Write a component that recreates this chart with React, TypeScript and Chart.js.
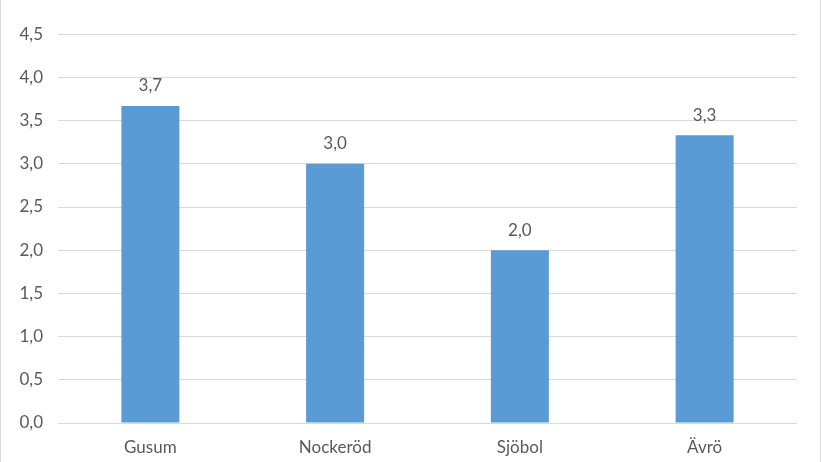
import React, { useRef, useEffect } from "react";
import { Chart, registerables } from "chart.js";

Chart.register(...registerables);

const categories = ["Gusum", "Nockeröd", "Sjöbol", "Ävrö"];
const values = [3.67, 3.0, 2.0, 3.33];
const yMax = 5;
const yStep = 0.5;

const FONT = "Lato, 'Liberation Sans', sans-serif";
const TEXT = "#595959";
const GRID = "#d9d9d9";
const BAR = "#5b9bd5";
const SIZE = 17;

const fmt = (v: number, d: number) => v.toFixed(d).replace(".", ",");

const valueLabels = {
  id: "valueLabels",
  afterDatasetsDraw(chart: any) {
    const ctx = chart.ctx;
    const meta = chart.getDatasetMeta(0);
    ctx.save();
    ctx.font = `${SIZE}px ${FONT}`;
    ctx.fillStyle = TEXT;
    ctx.textAlign = "center";
    ctx.textBaseline = "middle";
    meta.data.forEach((bar: any, i: number) => {
      ctx.fillText(fmt(values[i], 1), bar.x, bar.y - 20);
    });
    ctx.restore();
  },
};

const frame = {
  id: "frame",
  beforeDraw(chart: any) {
    const ctx = chart.ctx;
    ctx.save();
    ctx.fillStyle = "#ffffff";
    ctx.fillRect(0, 0, chart.width, chart.height);
    ctx.fillStyle = GRID;
    ctx.fillRect(0, 0, 1, chart.height);
    ctx.fillRect(chart.width - 1, 0, 1, chart.height);
    ctx.restore();
  },
};

const App: React.FC = () => {
  const chartRef = useRef<HTMLCanvasElement | null>(null);
  const chartInstance = useRef<Chart | null>(null);

  useEffect(() => {
    document.body.style.margin = "0";
    if (chartInstance.current) {
      chartInstance.current.destroy();
    }
    if (chartRef.current) {
      chartInstance.current = new Chart(chartRef.current, {
        type: "bar",
        data: {
          labels: categories,
          datasets: [
            {
              data: values,
              backgroundColor: BAR,
              barPercentage: 0.314,
              categoryPercentage: 1,
            },
          ],
        },
        options: {
          animation: false,
          responsive: false,
          maintainAspectRatio: false,
          layout: { padding: { top: 34, right: 24, left: 0, bottom: 0 } },
          plugins: {
            legend: { display: false },
            tooltip: { enabled: false },
          },
          scales: {
            x: {
              grid: { display: false, drawTicks: false },
              border: { display: false },
              ticks: {
                color: TEXT,
                font: { family: FONT, size: SIZE },
                padding: 14,
              },
              afterFit: (scale: any) => {
                scale.height = 39;
              },
            },
            y: {
              min: 0,
              max: yMax,
              grid: { color: GRID, drawTicks: false, lineWidth: 1 },
              border: { display: false },
              ticks: {
                stepSize: yStep,
                color: TEXT,
                font: { family: FONT, size: SIZE },
                padding: 15,
                callback: (v: any) => fmt(Number(v), 1),
              },
              afterFit: (scale: any) => {
                scale.width = 58;
              },
            },
          },
        },
        plugins: [frame, valueLabels],
      });
    }
    return () => {
      if (chartInstance.current) {
        chartInstance.current.destroy();
        chartInstance.current = null;
      }
    };
  }, []);

  return (
    <div
      style={{
        position: "fixed",
        top: 0,
        left: 0,
        width: 821,
        height: 462,
        overflow: "hidden",
      }}
    >
      <canvas
        ref={chartRef}
        width={821}
        height={505}
        style={{ position: "absolute", top: -43, left: 0, width: 821, height: 505 }}
      />
    </div>
  );
};

export default App;
